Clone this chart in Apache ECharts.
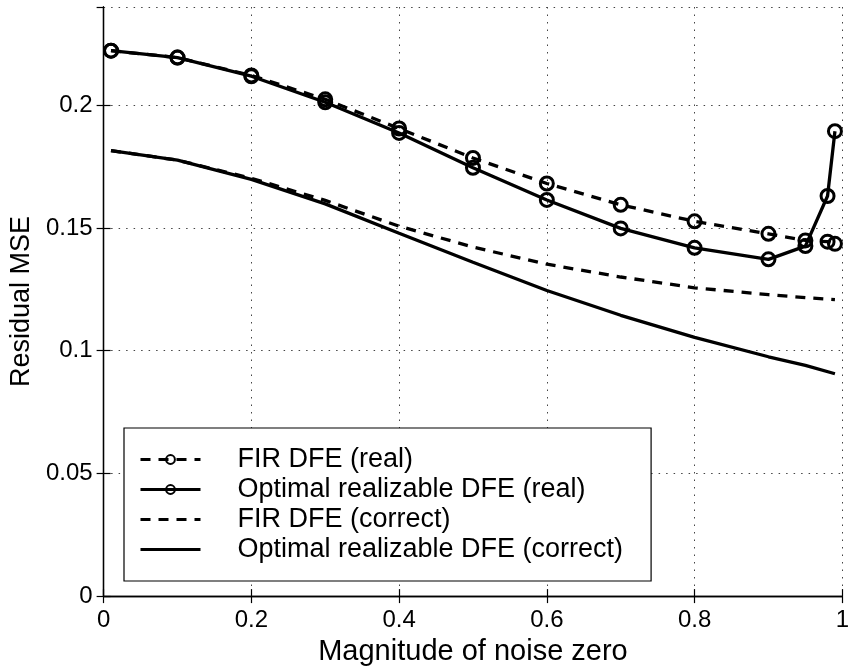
<!DOCTYPE html>
<html>
<head>
<meta charset="utf-8">
<script src="https://cdn.jsdelivr.net/npm/echarts@6/dist/echarts.min.js"></script>
<style>
html,body{margin:0;padding:0;background:#fff;}
#chart{width:852px;height:671px;}
</style>
</head>
<body>
<div id="chart"></div>
<script>
// Data
var xReal = [0.01, 0.1, 0.2, 0.3, 0.4, 0.5, 0.6, 0.7, 0.8, 0.9, 0.95, 0.98, 0.99];
var firReal = [0.2222, 0.2194, 0.2121, 0.2024, 0.1905, 0.1785, 0.1681, 0.1594, 0.1527, 0.1476, 0.1449, 0.1444, 0.1435];
var optReal = [0.2222, 0.2194, 0.2118, 0.2012, 0.1887, 0.1745, 0.1614, 0.1498, 0.1419, 0.1372, 0.1426, 0.1630, 0.1894];

var xCorrect = [0.01, 0.1, 0.2, 0.3, 0.4, 0.5, 0.6, 0.7, 0.8, 0.9, 0.95, 0.99];
var firCorrect = [0.1815, 0.1776, 0.1702, 0.1612, 0.1507, 0.1422, 0.1352, 0.1300, 0.1256, 0.1228, 0.1216, 0.1208];
var optCorrect = [0.1815, 0.1776, 0.1698, 0.1598, 0.1478, 0.1360, 0.1245, 0.1144, 0.1054, 0.0975, 0.0940, 0.0906];

var seriesNames = ['FIR DFE (real)', 'Optimal realizable DFE (real)', 'FIR DFE (correct)', 'Optimal realizable DFE (correct)'];
var xAxisName = 'Magnitude of noise zero';
var yAxisName = 'Residual MSE';

function pairs(xs, ys) { return xs.map(function (x, i) { return [x, ys[i]]; }); }

var FONT = 'Liberation Sans';
var dash = [10, 8];
var gridDots = { color: '#444', width: 1, type: [1.5, 6] };
var clear = 'rgba(255,255,255,0)';

var chart = echarts.init(document.getElementById('chart'), null, { renderer: 'canvas' });

var baseAxisLine = { show: true, lineStyle: { color: '#000', width: 1.3 } };
var inTick = { show: true, inside: true, length: 7, lineStyle: { color: '#000', width: 1.2 } };

var option = {
  animation: false,
  backgroundColor: '#fff',
  grid: { left: 101, right: -1, top: 7, bottom: 69, containLabel: false },
  legend: {
    orient: 'vertical',
    left: 124,
    top: 428,
    padding: [18, 28, 18, 15],
    itemWidth: 60,
    itemHeight: 11,
    itemGap: 3,
    backgroundColor: '#fff',
    borderColor: '#000',
    borderWidth: 1.2,
    borderRadius: 0,
    selectedMode: false,
    lineStyle: { width: 3 },
    itemStyle: { borderWidth: 2 },
    textStyle: { fontFamily: FONT, fontSize: 27, color: '#000', lineHeight: 27, padding: [0, 0, 0, 32] },
    data: [
      { name: seriesNames[0] },
      { name: seriesNames[1] },
      { name: seriesNames[2], itemStyle: { color: clear, borderColor: clear, borderWidth: 0 } },
      { name: seriesNames[3], itemStyle: { color: clear, borderColor: clear, borderWidth: 0 } }
    ]
  },
  xAxis: [{
    type: 'value', min: 0, max: 1, interval: 0.2, position: 'bottom',
    name: xAxisName, nameLocation: 'middle', nameGap: 37,
    nameTextStyle: { fontFamily: FONT, fontSize: 29, color: '#000' },
    axisLine: baseAxisLine, axisTick: inTick,
    axisLabel: { fontFamily: FONT, fontSize: 24, color: '#000', margin: 12 },
    splitLine: { show: true, lineStyle: gridDots }
  }, {
    type: 'value', min: 0, max: 1, interval: 0.2, position: 'top',
    axisLine: baseAxisLine, axisTick: inTick, axisLabel: { show: false }, splitLine: { show: false }
  }],
  yAxis: [{
    type: 'value', min: 0, max: 0.24, interval: 0.05, position: 'left',
    name: yAxisName, nameLocation: 'middle', nameGap: 62,
    nameTextStyle: { fontFamily: FONT, fontSize: 27, color: '#000' },
    axisLine: baseAxisLine, axisTick: inTick,
    axisLabel: { fontFamily: FONT, fontSize: 24, color: '#000', margin: 11, showMaxLabel: false },
    splitLine: { show: true, lineStyle: gridDots }
  }, {
    type: 'value', min: 0, max: 0.24, interval: 0.05, position: 'right',
    axisLine: baseAxisLine, axisTick: inTick, axisLabel: { show: false }, splitLine: { show: false }
  }],
  series: [
    {
      name: seriesNames[0], type: 'line', data: pairs(xReal, firReal),
      symbol: 'circle', symbolSize: 13, showSymbol: true,
      lineStyle: { color: '#000', width: 3.3, type: dash },
      itemStyle: { color: clear, borderColor: '#000', borderWidth: 3 },
      z: 3
    },
    {
      name: seriesNames[1], type: 'line', data: pairs(xReal, optReal),
      symbol: 'circle', symbolSize: 13, showSymbol: true,
      lineStyle: { color: '#000', width: 3.3, type: 'solid' },
      itemStyle: { color: clear, borderColor: '#000', borderWidth: 3 },
      z: 3
    },
    {
      name: seriesNames[2], type: 'line', data: pairs(xCorrect, firCorrect),
      symbol: 'none', showSymbol: false,
      lineStyle: { color: '#000', width: 3.3, type: dash },
      itemStyle: { color: clear, borderWidth: 0 },
      z: 3
    },
    {
      name: seriesNames[3], type: 'line', data: pairs(xCorrect, optCorrect),
      symbol: 'none', showSymbol: false,
      lineStyle: { color: '#000', width: 3.3, type: 'solid' },
      itemStyle: { color: clear, borderWidth: 0 },
      z: 3
    }
  ]
};
chart.setOption(option);
</script>
</body>
</html>
